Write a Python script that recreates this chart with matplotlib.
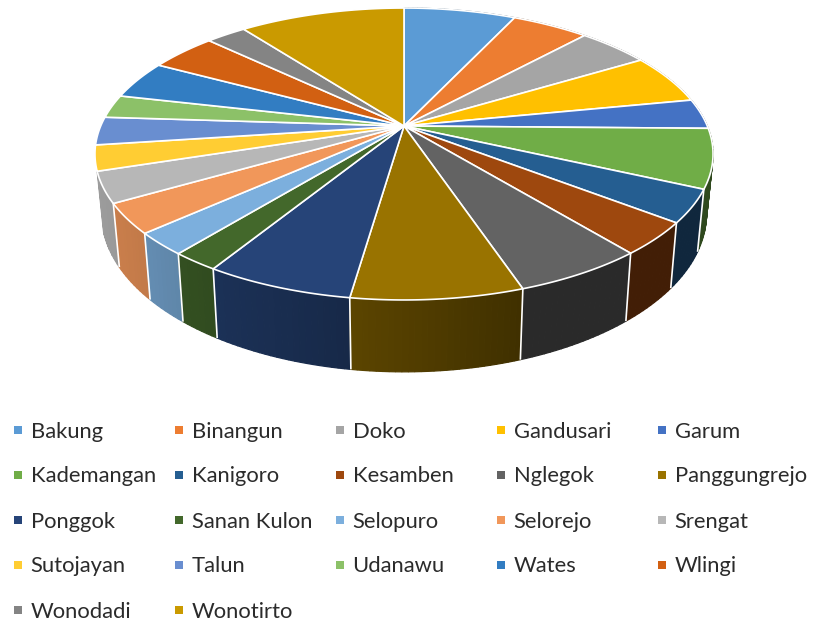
import numpy as np
import matplotlib
matplotlib.use("Agg")
import matplotlib.pyplot as plt
from matplotlib.patches import Polygon

# share of each kecamatan (percent)
names = ["Bakung", "Binangun", "Doko", "Gandusari", "Garum",
         "Kademangan", "Kanigoro", "Kesamben", "Nglegok", "Panggungrejo",
         "Ponggok", "Sanan Kulon", "Selopuro", "Selorejo", "Srengat",
         "Sutojayan", "Talun", "Udanawu", "Wates", "Wlingi",
         "Wonodadi", "Wonotirto"]
values = [7.04, 4.84, 4.52, 5.54, 3.32,
          6.54, 3.61, 3.60, 5.79, 7.51,
          6.51, 2.10, 2.47, 3.30, 3.40,
          2.81, 3.10, 2.57, 4.24, 4.23,
          2.53, 10.42]
colors = ["#5B9BD5", "#ED7D31", "#A5A5A5", "#FFC000", "#4472C4",
          "#70AD47", "#255E91", "#9E480E", "#636363", "#997300",
          "#264478", "#43682B", "#7CAFDD", "#F1975A", "#B7B7B7",
          "#FFCD33", "#698ED0", "#8CC168", "#327DC2", "#D26012",
          "#848484", "#CA9A00"]

# projected pie, in pixels
CX, CY = 404.0, 126.0
K = 0.1918
A, C = 303.3, 140.6
LAST_WALL = 14  # slices after Srengat have no visible wall


def top_rim(theta):
    w = 1 + K * np.cos(theta)
    return CX + A * np.sin(theta) / w, CY - C * np.cos(theta) / w


def bottom_rim(theta):
    x, y = top_rim(theta)
    return CX + 0.979 * (x - CX), 368.3 + 1.085 * (y - 296.7)


def side_shade(x):
    # the wall gets darker from left to right
    return np.interp(x, [100, 150, 217, 350, 520, 720],
                     [0.85, 0.80, 0.72, 0.60, 0.42, 0.42])


def main():
    fig = plt.figure(figsize=(8.13, 6.24), dpi=100)
    ax = fig.add_axes([0, 0, 1, 1])
    ax.set_xlim(0, 813)
    ax.set_ylim(624, 0)
    ax.axis("off")

    edges = np.radians(np.cumsum([0] + values) / sum(values) * 360)

    # walls first, back to front
    pieces = []
    for i in range(LAST_WALL + 1):
        steps = max(int(np.degrees(edges[i + 1] - edges[i])), 2)
        t = np.linspace(edges[i], edges[i + 1], steps + 1)
        for a, b in zip(t[:-1], t[1:]):
            xa, ya = top_rim(a)
            xb, yb = top_rim(b)
            xc, yc = bottom_rim(b)
            xd, yd = bottom_rim(a)
            shade = side_shade((xa + xb) / 2)
            rgb = np.array(matplotlib.colors.to_rgb(colors[i])) * shade
            pieces.append(((ya + yb) / 2, [(xa, ya), (xb, yb), (xc, yc), (xd, yd)], rgb))
        xa, ya = top_rim(edges[i])
        xd, yd = bottom_rim(edges[i])
        ax.plot([xa, xd], [ya, yd], color="white", lw=1.2, solid_capstyle="butt", zorder=2)

    for _, pts, rgb in sorted(pieces, key=lambda p: p[0]):
        ax.add_patch(Polygon(pts, closed=True, facecolor=rgb, edgecolor=rgb, lw=0.9, zorder=1))

    # top face
    for i in range(len(values)):
        t = np.linspace(edges[i], edges[i + 1], 60)
        x, y = top_rim(t)
        pts = [(CX, CY)] + list(zip(x, y))
        ax.add_patch(Polygon(pts, closed=True, facecolor=colors[i], edgecolor="white",
                             lw=1.2, joinstyle="round", zorder=3))

    # legend, 5 columns
    for i, name in enumerate(names):
        col_x = 17.5 + 161 * (i % 5)
        row_y = 430 + 45 * (i // 5)
        ax.plot([col_x], [row_y], marker="s", ms=6.2, mew=0, color=colors[i])
        ax.text(col_x + 13, row_y + 1.5, name, fontsize=15.8, family="Lato", color="#2b2b2b",
                va="center", ha="left")

    fig.savefig("out.png", dpi=100)


if __name__ == "__main__":
    main()
